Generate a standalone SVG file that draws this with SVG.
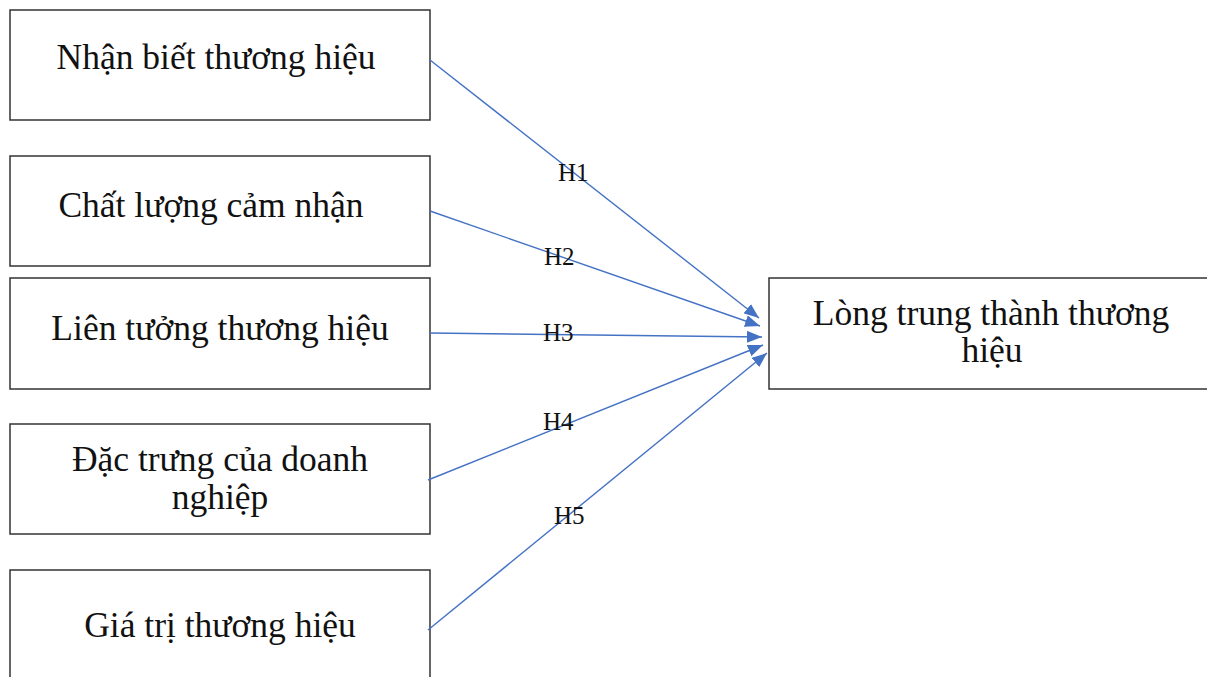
<svg xmlns="http://www.w3.org/2000/svg" width="1207" height="677" viewBox="0 0 1207 677">
<style>
.box{fill:#fff;stroke:#333;stroke-width:1.5}
.t{font-family:"Liberation Serif","Times New Roman",serif;font-size:35.5px;fill:#111;text-anchor:middle}
.h{font-family:"Liberation Serif","Times New Roman",serif;font-size:25px;fill:#111}
.c{stroke:#4472C4;stroke-width:1.4;fill:none;marker-end:url(#ah)}
</style>
<defs>
<marker id="ah" markerUnits="userSpaceOnUse" markerWidth="16" markerHeight="12" refX="15" refY="6" orient="auto">
<path d="M0,0 L15,6 L0,12 Z" fill="#4472C4"/>
</marker>
</defs>
<rect width="1207" height="677" fill="#fff"/>
<g id="n1"><rect class="box" x="10" y="10" width="420" height="110"/><text class="t" x="216" y="69">Nhận biết thương hiệu</text></g>
<g id="n2"><rect class="box" x="10" y="156" width="420" height="110"/><text class="t" x="211" y="217">Chất lượng cảm nhận</text></g>
<g id="n3"><rect class="box" x="10" y="278" width="420" height="111"/><text class="t" x="220" y="340">Liên tưởng thương hiệu</text></g>
<g id="n4"><rect class="box" x="10" y="424" width="420" height="110"/><text class="t" x="220" y="471">Đặc trưng của doanh</text><text class="t" x="220" y="509">nghiệp</text></g>
<g id="n5"><rect class="box" x="10" y="570" width="420" height="120"/><text class="t" x="220" y="637">Giá trị thương hiệu</text></g>
<g id="n6"><rect class="box" x="769" y="278" width="450" height="111"/><text class="t" x="991" y="325">Lòng trung thành thương</text><text class="t" x="992" y="362">hiệu</text></g>
<g id="connectors">
<line class="c" x1="430" y1="60" x2="759" y2="318"/>
<line class="c" x1="430" y1="211" x2="760" y2="326"/>
<line class="c" x1="430" y1="333" x2="762" y2="337"/>
<line class="c" x1="428" y1="480" x2="763" y2="345"/>
<line class="c" x1="428" y1="630" x2="767" y2="353"/>
<text class="h" x="558" y="181">H1</text>
<text class="h" x="544" y="265">H2</text>
<text class="h" x="543" y="341">H3</text>
<text class="h" x="543" y="430">H4</text>
<text class="h" x="554" y="524">H5</text>
</g>
</svg>
